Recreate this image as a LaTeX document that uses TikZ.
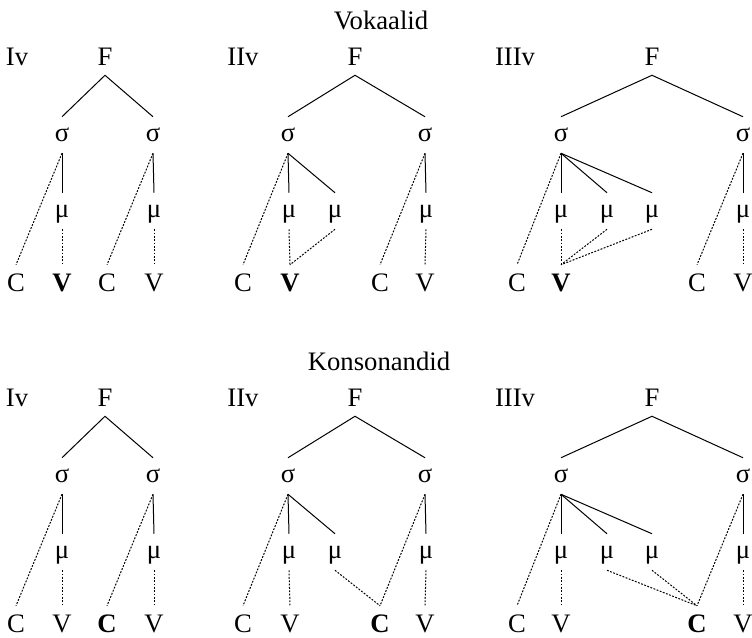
\documentclass[tikz,border=0pt]{standalone}
\usepackage{fontspec}
\setmainfont{Liberation Serif}
\begin{document}
\begin{tikzpicture}[x=0.75pt,y=-0.75pt,
  every node/.style={font=\fontsize{20}{24}\selectfont},
  up/.style={inner sep=0pt, text height=13.2pt, text depth=0pt, minimum height=27pt},
  lo/.style={inner sep=0pt, text height=9pt, text depth=0pt, minimum height=27pt},
  arc/.style={line width=0.75pt},
  link/.style={line width=0.75pt, dash pattern=on 1.4pt off 1.1pt}]
\useasboundingbox (0,0) rectangle (752,637);

% ---------------- vowels ----------------
\node[up] (vt) at (381,21) {Vokaalid};

% Iv
\node[up] (a0) at (17,57) {Iv};
\node[up] (aF) at (105,57) {F};
\node[lo] (as1) at (62,135) {σ};
\node[lo] (as2) at (153,135) {σ};
\node[lo] (am1) at (62,211) {μ};
\node[lo] (am2) at (154,211) {μ};
\node[up] (ac1) at (16,283) {C};
\node[up] (av1) at (62,283) {\textbf{V}};
\node[up] (ac2) at (107,283) {C};
\node[up] (av2) at (154,283) {V};
\draw[arc] (as1.north) -- (aF.south) -- (as2.north);
\draw[arc] (as1.south) -- (am1.north);
\draw[arc] (as2.south) -- (am2.north);
\draw[link] (as1.south) -- (ac1.north);
\draw[link] (am1.south) -- (av1.north);
\draw[link] (as2.south) -- (ac2.north);
\draw[link] (am2.south) -- (av2.north);

% IIv
\node[up] (b0) at (243,57) {IIv};
\node[up] (bF) at (355,57) {F};
\node[lo] (bs1) at (288,135) {σ};
\node[lo] (bs2) at (425,135) {σ};
\node[lo] (bm1) at (289,211) {μ};
\node[lo] (bm2) at (335,211) {μ};
\node[lo] (bm3) at (426,211) {μ};
\node[up] (bc1) at (243,283) {C};
\node[up] (bv1) at (290,283) {\textbf{V}};
\node[up] (bc2) at (380,283) {C};
\node[up] (bv2) at (425,283) {V};
\draw[arc] (bs1.north) -- (bF.south) -- (bs2.north);
\draw[arc] (bs1.south) -- (bm1.north);
\draw[arc] (bs1.south) -- (bm2.north);
\draw[arc] (bs2.south) -- (bm3.north);
\draw[link] (bs1.south) -- (bc1.north);
\draw[link] (bm1.south) -- (bv1.north);
\draw[link] (bm2.south) -- (bv1.north);
\draw[link] (bs2.south) -- (bc2.north);
\draw[link] (bm3.south) -- (bv2.north);

% IIIv
\node[up] (c0) at (515,57) {IIIv};
\node[up] (cF) at (652,57) {F};
\node[lo] (cs1) at (561,135) {σ};
\node[lo] (cs2) at (743,135) {σ};
\node[lo] (cm1) at (561,211) {μ};
\node[lo] (cm2) at (607,211) {μ};
\node[lo] (cm3) at (652,211) {μ};
\node[lo] (cm4) at (743,211) {μ};
\node[up] (cc1) at (517,283) {C};
\node[up] (cv1) at (561,283) {\textbf{V}};
\node[up] (cc2) at (697,283) {C};
\node[up] (cv2) at (743,283) {V};
\draw[arc] (cs1.north) -- (cF.south) -- (cs2.north);
\draw[arc] (cs1.south) -- (cm1.north);
\draw[arc] (cs1.south) -- (cm2.north);
\draw[arc] (cs1.south) -- (cm3.north);
\draw[arc] (cs2.south) -- (cm4.north);
\draw[link] (cs1.south) -- (cc1.north);
\draw[link] (cm1.south) -- (cv1.north);
\draw[link] (cm2.south) -- (cv1.north);
\draw[link] (cm3.south) -- (cv1.north);
\draw[link] (cs2.south) -- (cc2.north);
\draw[link] (cm4.south) -- (cv2.north);

% ---------------- consonants ----------------
\begin{scope}[shift={(0,341)}]
\node[up] (kt) at (379,21) {Konsonandid};

% Iv
\node[up] (d0) at (17,57) {Iv};
\node[up] (dF) at (105,57) {F};
\node[lo] (ds1) at (62,135) {σ};
\node[lo] (ds2) at (153,135) {σ};
\node[lo] (dm1) at (62,211) {μ};
\node[lo] (dm2) at (154,211) {μ};
\node[up] (dc1) at (16,283) {C};
\node[up] (dv1) at (62,283) {V};
\node[up] (dc2) at (107,283) {\textbf{C}};
\node[up] (dv2) at (154,283) {V};
\draw[arc] (ds1.north) -- (dF.south) -- (ds2.north);
\draw[arc] (ds1.south) -- (dm1.north);
\draw[arc] (ds2.south) -- (dm2.north);
\draw[link] (ds1.south) -- (dc1.north);
\draw[link] (dm1.south) -- (dv1.north);
\draw[link] (ds2.south) -- (dc2.north);
\draw[link] (dm2.south) -- (dv2.north);

% IIv
\node[up] (e0) at (243,57) {IIv};
\node[up] (eF) at (355,57) {F};
\node[lo] (es1) at (288,135) {σ};
\node[lo] (es2) at (425,135) {σ};
\node[lo] (em1) at (289,211) {μ};
\node[lo] (em2) at (335,211) {μ};
\node[lo] (em3) at (426,211) {μ};
\node[up] (ec1) at (243,283) {C};
\node[up] (ev1) at (290,283) {V};
\node[up] (ec2) at (380,283) {\textbf{C}};
\node[up] (ev2) at (425,283) {V};
\draw[arc] (es1.north) -- (eF.south) -- (es2.north);
\draw[arc] (es1.south) -- (em1.north);
\draw[arc] (es1.south) -- (em2.north);
\draw[arc] (es2.south) -- (em3.north);
\draw[link] (es1.south) -- (ec1.north);
\draw[link] (em1.south) -- (ev1.north);
\draw[link] (em2.south) -- (ec2.north);
\draw[link] (es2.south) -- (ec2.north);
\draw[link] (em3.south) -- (ev2.north);

% IIIv
\node[up] (f0) at (515,57) {IIIv};
\node[up] (fF) at (652,57) {F};
\node[lo] (fs1) at (561,135) {σ};
\node[lo] (fs2) at (743,135) {σ};
\node[lo] (fm1) at (561,211) {μ};
\node[lo] (fm2) at (607,211) {μ};
\node[lo] (fm3) at (652,211) {μ};
\node[lo] (fm4) at (743,211) {μ};
\node[up] (fc1) at (517,283) {C};
\node[up] (fv1) at (561,283) {V};
\node[up] (fc2) at (697,283) {\textbf{C}};
\node[up] (fv2) at (743,283) {V};
\draw[arc] (fs1.north) -- (fF.south) -- (fs2.north);
\draw[arc] (fs1.south) -- (fm1.north);
\draw[arc] (fs1.south) -- (fm2.north);
\draw[arc] (fs1.south) -- (fm3.north);
\draw[arc] (fs2.south) -- (fm4.north);
\draw[link] (fs1.south) -- (fc1.north);
\draw[link] (fm1.south) -- (fv1.north);
\draw[link] (fm2.south) -- (fc2.north);
\draw[link] (fm3.south) -- (fc2.north);
\draw[link] (fs2.south) -- (fc2.north);
\draw[link] (fm4.south) -- (fv2.north);
\end{scope}
\end{tikzpicture}
\end{document}
